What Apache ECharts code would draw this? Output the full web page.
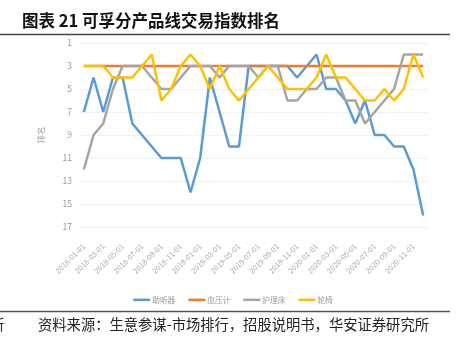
<!DOCTYPE html>
<html>
<head>
<meta charset="utf-8">
<script src="https://cdn.jsdelivr.net/npm/echarts@6/dist/echarts.min.js"></script>
<style>
html,body{margin:0;padding:0;background:#fff;}
#chart{width:466px;height:344px;}
</style>
</head>
<body>
<div id="chart"></div>
<script>
var categories = [
  '2018-01-01','2018-02-01','2018-03-01','2018-04-01','2018-05-01','2018-06-01',
  '2018-07-01','2018-08-01','2018-09-01','2018-10-01','2018-11-01','2018-12-01',
  '2019-01-01','2019-02-01','2019-03-01','2019-04-01','2019-05-01','2019-06-01',
  '2019-07-01','2019-08-01','2019-09-01','2019-10-01','2019-11-01','2019-12-01',
  '2020-01-01','2020-02-01','2020-03-01','2020-04-01','2020-05-01','2020-06-01',
  '2020-07-01','2020-08-01','2020-09-01','2020-10-01','2020-11-01','2020-12-01'
];
var seriesNames = ['助听器','血压计','护理床','轮椅'];
var hearingAid = [7,4,7,4,4,8,9,10,11,11,11,14,11,4,7,10,10,3,3,3,3,3,4,3,2,5,5,6,8,6,9,9,10,10,12,16];
var bloodPressure = [3,3,3,3,3,3,3,3,3,3,3,3,3,3,3,3,3,3,3,3,3,3,3,3,3,3,3,3,3,3,3,3,3,3,3,3];
var nursingBed = [12,9,8,5,3,3,3,4,5,5,4,3,3,3,4,3,3,3,4,3,3,6,6,5,5,4,4,6,6,8,7,6,5,2,2,2];
var wheelchair = [3,3,3,4,4,4,3,2,6,5,3,2,3,5,3,5,6,5,4,3,4,5,5,5,4,2,4,4,5,6,6,5,6,5,2,4];
var yTicks = {min:1, max:17, interval:2};
var titleText = '图表 21 可孚分产品线交易指数排名';
var sourceText = '资料来源：生意参谋-市场排行，招股说明书，华安证券研究所';

var colors = ['#5B9BD5','#ED7D31','#A5A5A5','#FFC000'];
var allData = [hearingAid, bloodPressure, nursingBed, wheelchair];

var chart = echarts.init(document.getElementById('chart'), null, {renderer:'canvas'});
var font = '"Noto Sans CJK SC", "Noto Sans", sans-serif';
chart.setOption({
  animation:false,
  backgroundColor:'#fff',
  color:colors,
  textStyle:{fontFamily:font},
  grid:{left:79, right:38, top:43, bottom:117, containLabel:false},
  legend:{
    data:seriesNames,
    top:291, left:'center',
    icon:'rect', itemWidth:17, itemHeight:2.5, itemGap:13,
    textStyle:{fontSize:7.7, color:'#999', padding:[0,0,0,-3]}
  },
  xAxis:{
    type:'category', data:categories, boundaryGap:true,
    axisLine:{show:false}, axisTick:{show:false},
    axisLabel:{interval:1, rotate:45, fontSize:7.5, color:'#aaa', margin:18}
  },
  yAxis:{
    type:'value', inverse:true, min:yTicks.min, max:yTicks.max, interval:yTicks.interval,
    name:'排名', nameLocation:'middle', nameGap:34, nameRotate:90,
    nameTextStyle:{fontSize:8.5, color:'#aaa'},
    axisLine:{show:false}, axisTick:{show:false},
    axisLabel:{fontSize:8.5, color:'#999', margin:7},
    splitLine:{lineStyle:{color:'#f1f1f1', width:1}}
  },
  series: seriesNames.map(function(n,i){
    return {name:n, type:'line', data:allData[i], symbol:'none', showSymbol:false,
      lineStyle:{width:2.5, color:colors[i]}, itemStyle:{color:colors[i]}, z:2+i};
  }),
  graphic:[
    {type:'text', left:22, top:12, style:{text:titleText, font:'bold 16.5px '+font, fill:'#111'}},
    {type:'line', shape:{x1:0,y1:34.5,x2:450,y2:34.5}, style:{stroke:'#444', lineWidth:1.5}},
    {type:'line', shape:{x1:0,y1:311.5,x2:450,y2:311.5}, style:{stroke:'#555', lineWidth:1.5}},
    {type:'text', left:38, top:317, style:{text:sourceText, font:'14.3px '+font, fill:'#222'}},
    {type:'text', left:-10, top:317, style:{text:'所', font:'14.3px '+font, fill:'#222'}}
  ]
});
</script>
</body>
</html>
